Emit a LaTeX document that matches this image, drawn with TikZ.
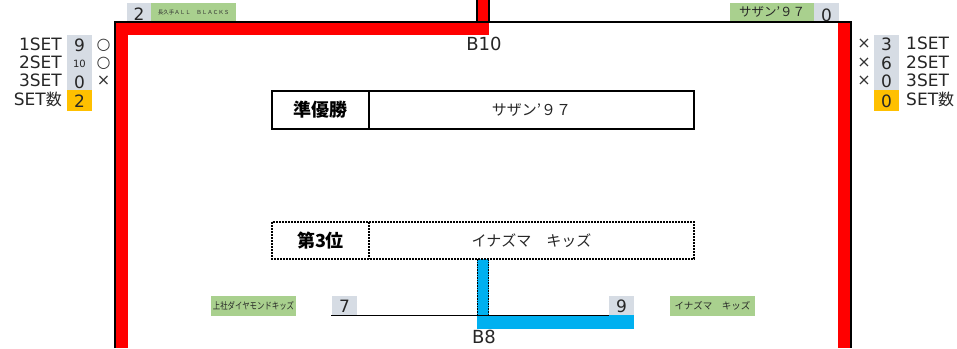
\documentclass[tikz,border=0pt]{standalone}
\usepackage{fontspec}
\setmainfont{DejaVu Sans}
\newfontfamily\jp{Noto Sans CJK JP}
\definecolor{xred}{HTML}{FF0000}
\definecolor{xblue}{HTML}{00B0F0}
\definecolor{xgray}{HTML}{D6DCE4}
\definecolor{xgreen}{HTML}{A9D08E}
\definecolor{xorange}{HTML}{FFC000}
\tikzset{
  lbl/.style={inner sep=0pt, text=black!85, font=\fontsize{17}{17}\selectfont},
  num/.style={inner sep=0pt, text=black!85, font=\fontsize{17}{17}\selectfont},
  smallnum/.style={inner sep=0pt, text=black!85, font=\fontsize{10}{10}\selectfont},
  sym/.style={inner sep=0pt, text=black!80, font=\fontsize{16}{16}\selectfont},
  rnd/.style={inner sep=0pt, text=black!85, font=\fontsize{18}{18}\selectfont},
  jpbig/.style={inner sep=0pt, font=\jp\bfseries\fontsize{18}{18}\selectfont},
  jpmid/.style={inner sep=0pt, text=black!85, font=\jp\fontsize{15}{15}\selectfont},
  jpsmall/.style={inner sep=0pt, text=black!85, font=\jp\fontsize{9.5}{9.5}\selectfont},
  bracket/.style={line width=2pt, black},
  dotline/.style={line width=1.6pt, black, dash pattern=on 1.6pt off 1pt},
}
\begin{document}
\begin{tikzpicture}[x=1pt,y=-1pt]
\useasboundingbox (0,0) rectangle (957,348);
% ---- bracket coordinates
\coordinate (lb) at (115,348);
\coordinate (lt) at (115,22);
\coordinate (rt) at (851,22);
\coordinate (rb) at (851,348);
\coordinate (s1b) at (477,22);
\coordinate (s1t) at (477,0);
\coordinate (s2b) at (489,22);
\coordinate (s2t) at (489,0);
% ---- red highlight (winner path)
\fill[xred] (116,22) rectangle (128,348);
\fill[xred] (116,22) rectangle (489,35);
\fill[xred] (477,0) rectangle (489,22);
\fill[xred] (838,22) rectangle (850,348);
% ---- blue highlight (3rd place path)
\fill[xblue] (477,259) rectangle (489,329);
\fill[xblue] (477,315) rectangle (634,329);
% ---- cells
\fill[xgray] (67,35) rectangle (92,90);
\fill[xorange] (67,90) rectangle (92,111);
\fill[xgray] (874,35) rectangle (899,90);
\fill[xorange] (874,90) rectangle (899,111);
\fill[xgray] (127,3) rectangle (151,21);
\fill[xgreen] (151,3) rectangle (236,21);
\fill[xgreen] (730,3) rectangle (814,21);
\fill[xgray] (814,3) rectangle (839,21);
\fill[xgreen] (211,296) rectangle (296,316);
\fill[xgray] (332,296) rectangle (357,315);
\fill[xgray] (609,296) rectangle (634,315);
\fill[xgreen] (670,296) rectangle (755,316);
% ---- bracket lines
\draw[bracket] (lb) -- (lt) -- (rt) -- (rb);
\draw[line width=1.5pt] (s1b) -- (s1t);
\draw[line width=1.5pt] (s2b) -- (s2t);
\coordinate (b8l) at (331,315.5);
\coordinate (b8r) at (609,315.5);
\draw[line width=1.5pt] (b8l) -- (b8r);
\coordinate (d1t) at (477.5,259);
\coordinate (d1b) at (477.5,315);
\coordinate (d2t) at (488.5,259);
\coordinate (d2b) at (488.5,315);
\draw[dotline] (d1t) -- (d1b);
\draw[dotline] (d2t) -- (d2b);
% ---- result boxes
\draw[line width=2pt] (272,91) rectangle (694,129);
\draw[line width=2pt] (369,91) -- (369,129);
\node[jpbig] (rank2) at (320.5,110) {準優勝};
\node[jpmid] (team2) at (531.5,110) {サザン’９７};
\draw[line width=2pt, dash pattern=on 2pt off 1pt] (272,222) rectangle (694,259);
\draw[line width=2pt, dash pattern=on 2pt off 1pt] (369,222) -- (369,259);
\node[jpbig] (rank3) at (320.5,240.5) {第3位};
\node[jpmid] (team3) at (531.5,240.5) {イナズマ　キッズ};
% ---- round labels
\node[rnd] (b10) at (484,43.5) {B10};
\node[rnd] (b8) at (484,337) {B8};
% ---- left score panel
\node[lbl, anchor=east] (ls1) at (62,44) {1SET};
\node[lbl, anchor=east] (ls2) at (62,62) {2SET};
\node[lbl, anchor=east] (ls3) at (62,80) {3SET};
\node[lbl, anchor=east] (ls4) at (62,99) {SET{\jp\fontsize{16}{16}\selectfont 数}};
\node[num] (ln1) at (79.5,45) {9};
\node[smallnum] (ln2) at (79.5,63.5) {10};
\node[num] (ln3) at (79.5,82) {0};
\node[num] (ln4) at (79.5,101) {2};
\node[sym] (lm1) at (103.5,45) {○};
\node[sym] (lm2) at (103.5,63) {○};
\node[sym] (lm3) at (103.5,81) {×};
% ---- right score panel
\node[lbl, anchor=west] (rs1) at (906,43) {1SET};
\node[lbl, anchor=west] (rs2) at (906,62) {2SET};
\node[lbl, anchor=west] (rs3) at (906,80) {3SET};
\node[lbl, anchor=west] (rs4) at (906,99) {SET{\jp\fontsize{16}{16}\selectfont 数}};
\node[num] (rn1) at (886.5,44) {3};
\node[num] (rn2) at (886.5,63) {6};
\node[num] (rn3) at (886.5,81) {0};
\node[num] (rn4) at (886.5,101) {0};
\node[sym] (rm1) at (864,44) {×};
\node[sym] (rm2) at (864,63) {×};
\node[sym] (rm3) at (864,81) {×};
% ---- top team labels
\node[num] (tn1) at (139,14.5) {2};
\node[inner sep=0pt, text=black!80, font=\jp\fontsize{5.5}{5.5}\selectfont] (tt1) at (193.5,12) {長久手ＡＬＬ　ＢＬＡＣＫＳ};
\node[inner sep=0pt, text=black!85, font=\jp\fontsize{12.5}{12.5}\selectfont] (tt2) at (772,12) {サザン’９７};
\node[num] (tn2) at (826.5,15) {0};
% ---- bottom team labels
\node[jpsmall] (bt1) at (253.5,306) {\scalebox{0.78}[1]{上社ダイヤモンドキッズ}};
\node[num] (bn1) at (344.5,306) {7};
\node[num] (bn2) at (621.5,306) {9};
\node[jpsmall] (bt2) at (712.5,306) {イナズマ　キッズ};
\end{tikzpicture}
\end{document}
